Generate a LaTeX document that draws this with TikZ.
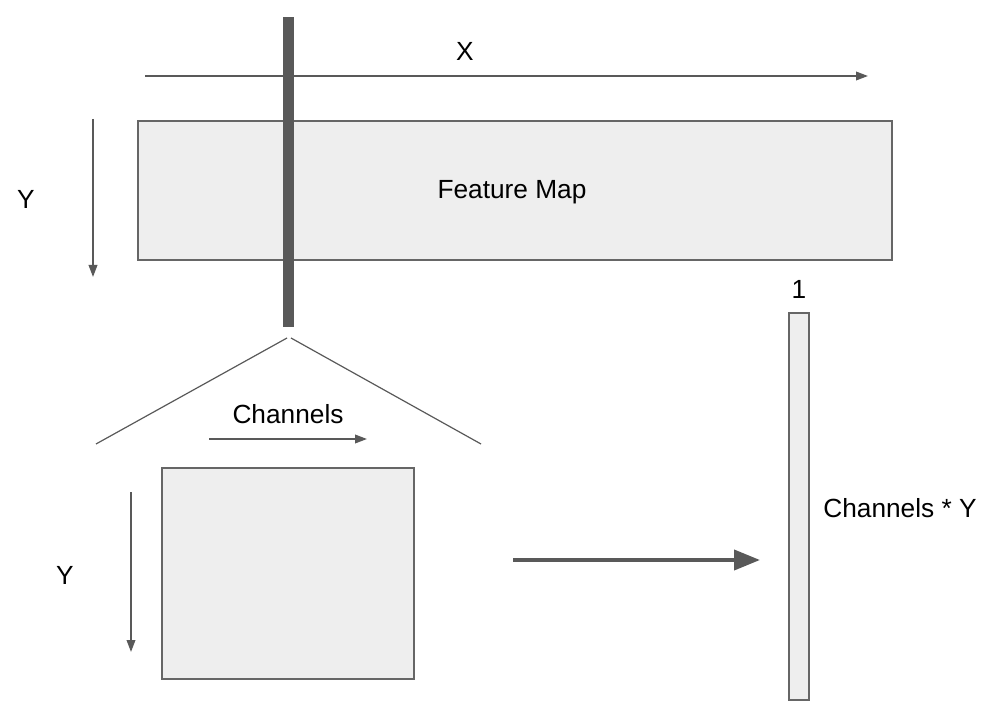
\documentclass[tikz,border=0pt]{standalone}
\usepackage{fontspec}
\setmainfont{Liberation Sans}
\usetikzlibrary{arrows.meta}
\definecolor{lineg}{HTML}{595959}
\definecolor{boxfill}{HTML}{EEEEEE}
\definecolor{boxline}{HTML}{666666}
\tikzset{
  thinarrow/.style={draw=lineg, line width=1.2pt, -{Triangle[length=9pt,width=6.5pt]}},
  boxstyle/.style={draw=boxline, fill=boxfill, line width=0.8pt},
  lbl/.style={font=\fontsize{19.7}{23}\selectfont, text=black, inner sep=0pt},
  thinline/.style={draw=lineg, line width=0.9pt},
}
\begin{document}
\begin{tikzpicture}[x=0.75pt,y=-0.75pt]
\useasboundingbox (0,0) rectangle (999,709);
% X arrow
\coordinate (xs) at (145,76);
\coordinate (xe) at (868,76);
\draw[thinarrow] (xs) -- (xe);
\node[lbl] (xl) at (465,51) {X};
% feature map
\draw[boxstyle] (138,121) rectangle (892,260);
\node[lbl, anchor=base] (fm) at (512,199) {Feature Map};
% Y arrow top
\coordinate (ys) at (93,119);
\coordinate (ye) at (93,277);
\draw[thinarrow] (ys) -- (ye);
\node[lbl] (yl1) at (26,199) {Y};
% thick bar
\fill[lineg] (282.5,17) rectangle (293.5,327);
% fan lines
\coordinate (apexl) at (287,338);
\coordinate (apexr) at (291,338);
\coordinate (fl) at (96,444);
\coordinate (fr) at (481,444);
\draw[thinline] (apexl) -- (fl);
\draw[thinline] (apexr) -- (fr);
% channels
\node[lbl] (ch) at (288,414) {Channels};
\coordinate (cs) at (209,439);
\coordinate (ce) at (367,439);
\draw[thinarrow] (cs) -- (ce);
% square
\draw[boxstyle] (162,468) rectangle (414,679);
% Y arrow bottom
\coordinate (ys2) at (131,492);
\coordinate (ye2) at (131,652);
\draw[thinarrow] (ys2) -- (ye2);
\node[lbl] (yl2) at (65,575) {Y};
% thick arrow
\coordinate (ts) at (513,560);
\coordinate (te) at (760,560);
\draw[draw=lineg, line width=3pt, -{Triangle[length=19.5pt,width=15pt]}] (ts) -- (te);
% tall rect
\draw[boxstyle] (789,313) rectangle (809,700);
\node[lbl] (one) at (799,289) {1};
\node[lbl] (cy) at (900,508) {Channels * Y};
\end{tikzpicture}
\end{document}
